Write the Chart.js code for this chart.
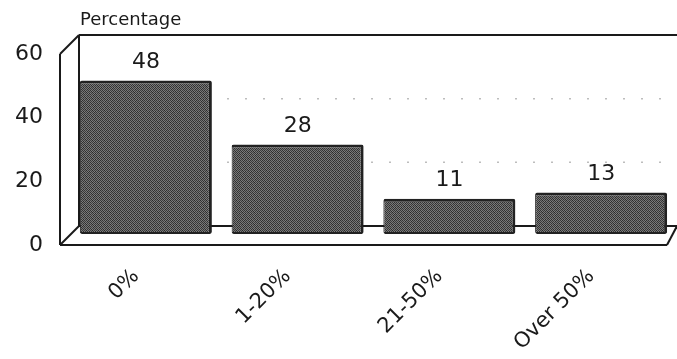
<!DOCTYPE html>
<html>
<head>
<meta charset="utf-8">
<script src="https://cdn.jsdelivr.net/npm/chart.js@4/dist/chart.umd.min.js"></script>
<style>
  html, body { margin: 0; padding: 0; background: #ffffff; }
  #wrap { width: 677px; height: 359px; }
</style>
</head>
<body>
<div id="wrap"><canvas id="c" width="677" height="359"></canvas></div>
<script>
// Share of respondents by band
const categories = ['0%', '1-20%', '21-50%', 'Over 50%'];
const percentages = [48, 28, 11, 13];
const yTickValues = [0, 20, 40, 60];
const axisTitle = 'Percentage';

const FONT = "'DejaVu Sans', Verdana, sans-serif";
const INK = '#1a1a1a';
const DEPTH = 19; // offset of the back wall from the front plane, px

// Halftone-like fill for the bars
function makeScreen() {
  const vals = [
    [50, 124, 62, 114, 54, 120],
    [118, 44, 128, 56, 122, 50],
    [66, 112, 40, 122, 60, 116],
    [126, 58, 116, 52, 130, 42],
    [52, 120, 58, 126, 46, 114],
    [114, 62, 124, 44, 118, 60]
  ];
  const cv = document.createElement('canvas');
  cv.width = 6; cv.height = 6;
  const g = cv.getContext('2d');
  const img = g.createImageData(6, 6);
  for (let r = 0; r < 6; r++) {
    for (let c = 0; c < 6; c++) {
      const k = (r * 6 + c) * 4, v = vals[r][c];
      img.data[k] = v; img.data[k + 1] = v; img.data[k + 2] = v; img.data[k + 3] = 255;
    }
  }
  g.putImageData(img, 0, 0);
  return g.createPattern(cv, 'repeat');
}

// Box frame: front axis, back wall, floor and dotted wall lines
const frame3d = {
  id: 'frame3d',
  beforeDatasetsDraw(chart) {
    const { ctx, chartArea: a, scales } = chart;
    const y = scales.y;
    const fx = a.left - 10, bx = fx + DEPTH;
    const f0 = y.getPixelForValue(yTickValues[0]);
    const fTop = y.getPixelForValue(yTickValues[yTickValues.length - 1]);
    const b0 = f0 - DEPTH, bTop = fTop - DEPTH;
    const seg = (x1, y1, x2, y2) => { ctx.beginPath(); ctx.moveTo(x1, y1); ctx.lineTo(x2, y2); ctx.stroke(); };
    ctx.save();
    ctx.lineCap = 'butt';
    // dotted lines on the back wall
    ctx.strokeStyle = '#bdbdbd';
    ctx.lineWidth = 1.5;
    ctx.setLineDash([2, 16]);
    yTickValues.slice(1, -1).forEach(v => {
      const py = y.getPixelForValue(v) - DEPTH;
      seg(bx + 4, py, a.right, py);
    });
    ctx.setLineDash([]);
    ctx.strokeStyle = INK;
    ctx.lineWidth = 2;
    // front vertical axis and its top bevel
    seg(fx, f0, fx, fTop);
    seg(fx, fTop, bx, bTop);
    // back wall
    seg(bx, bTop, a.right, bTop);
    seg(bx, bTop, bx, b0);
    // floor
    seg(bx, b0, a.right, b0);
    seg(fx, f0, bx, b0);
    seg(fx, f0, a.right - 10, f0);
    seg(a.right - 10, f0, a.right, b0);
    ctx.restore();
  },
  afterDatasetsDraw(chart) {
    const { ctx } = chart;
    ctx.save();
    ctx.fillStyle = INK;
    ctx.font = '22px ' + FONT;
    ctx.textAlign = 'center';
    ctx.textBaseline = 'middle';
    chart.getDatasetMeta(0).data.forEach((bar, i) => {
      ctx.fillText(String(percentages[i]), bar.x, bar.y - 18.5);
    });
    ctx.font = '18px ' + FONT;
    ctx.textAlign = 'left';
    ctx.textBaseline = 'alphabetic';
    ctx.fillText(axisTitle, chart.chartArea.left + 10, 25);
    ctx.restore();
  }
};

const chart = new Chart(document.getElementById('c'), {
  type: 'bar',
  data: {
    labels: categories,
    datasets: [{
      data: percentages,
      xAxisID: 'x',
      yAxisID: 'yb',
      backgroundColor: makeScreen(),
      borderColor: '#222222',
      borderWidth: { top: 3, right: 3, bottom: 2, left: 1 },
      borderSkipped: false,
      borderRadius: 2,
      categoryPercentage: 1,
      barPercentage: 0.87
    }]
  },
  options: {
    responsive: false,
    devicePixelRatio: 1,
    animation: false,
    layout: { padding: { top: 54, right: 0, bottom: 0, left: 0 } },
    plugins: { legend: { display: false }, tooltip: { enabled: false }, title: { display: false } },
    scales: {
      x: { type: 'category', display: false, offset: true },
      // category labels, set slightly left of each bar centre
      xl: {
        type: 'linear',
        position: 'bottom',
        offset: false,
        min: -0.4349,
        max: 3.5651,
        grid: { display: false, drawTicks: false },
        border: { display: false },
        ticks: {
          autoSkip: false,
          minRotation: 45,
          maxRotation: 45,
          padding: 19,
          color: INK,
          font: { family: FONT, size: 21 },
          callback: v => categories[v]
        },
        afterBuildTicks: s => { s.ticks = categories.map((_, i) => ({ value: i })); },
        afterFit: s => { s.height = 114; s.paddingLeft = 0; s.paddingRight = 0; }
      },
      y: {
        position: 'left',
        min: 0,
        max: 60,
        grid: { display: false, drawTicks: false },
        border: { display: false },
        ticks: { stepSize: 20, padding: 27, color: INK, font: { family: FONT, size: 22 } },
        afterBuildTicks: s => { s.ticks = yTickValues.map(v => ({ value: v })); },
        afterFit: s => { s.width = 70; s.paddingTop = 0; s.paddingBottom = 0; }
      },
      yb: { type: 'linear', display: false, min: -3.4375, max: 56.25 }
    }
  },
  plugins: [frame3d]
});
</script>
</body>
</html>
